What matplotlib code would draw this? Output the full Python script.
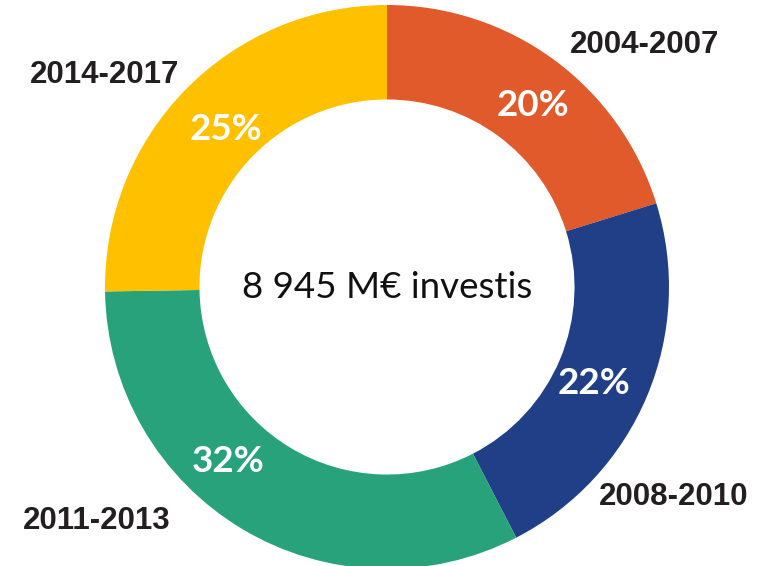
import matplotlib
matplotlib.use("Agg")
import matplotlib.pyplot as plt
import numpy as np

periods = ["2004-2007", "2008-2010", "2011-2013", "2014-2017"]
shares = [20, 22, 32, 25]
pct_labels = ["20%", "22%", "32%", "25%"]
colors = ["#E05A2B", "#213F87", "#27A27A", "#FFC000"]
center_text = "8 945 M\u20ac investis"

W, H = 769, 566
fig = plt.figure(figsize=(W / 100, H / 100), dpi=100)
ax = fig.add_axes([0, 0, 1, 1])
ax.set_xlim(0, W)
ax.set_ylim(0, H)
ax.set_aspect("equal")
ax.axis("off")

cx, cy, R = 387, H - 287, 282
wedges, _ = ax.pie(shares, colors=colors, startangle=90, counterclock=False,
                   radius=R, center=(cx, cy),
                   wedgeprops=dict(width=R * 0.335, edgecolor="none"))
ax.set_xlim(0, W)
ax.set_ylim(0, H)

# percentage labels inside ring
pct_pos = [(533, 106), (594, 384), (228, 461), (226, 129)]
for lab, (x, y) in zip(pct_labels, pct_pos):
    ax.text(x, H - y, lab, color="white", fontsize=26.5, fontweight="bold",
            family="Lato", ha="center", va="center")

# outer period labels
lab_pos = [(645, 45), (674, 497), (97, 521), (105, 75)]
for lab, (x, y) in zip(periods, lab_pos):
    ax.text(x, H - y, lab, color="#231F20", fontsize=22.5, fontweight="bold",
            family="Liberation Sans", ha="center", va="center")

ax.text(cx, H - 288, center_text, color="#111111", fontsize=26.5,
        family="Lato", ha="center", va="center")

fig.savefig("out.png", dpi=100)
